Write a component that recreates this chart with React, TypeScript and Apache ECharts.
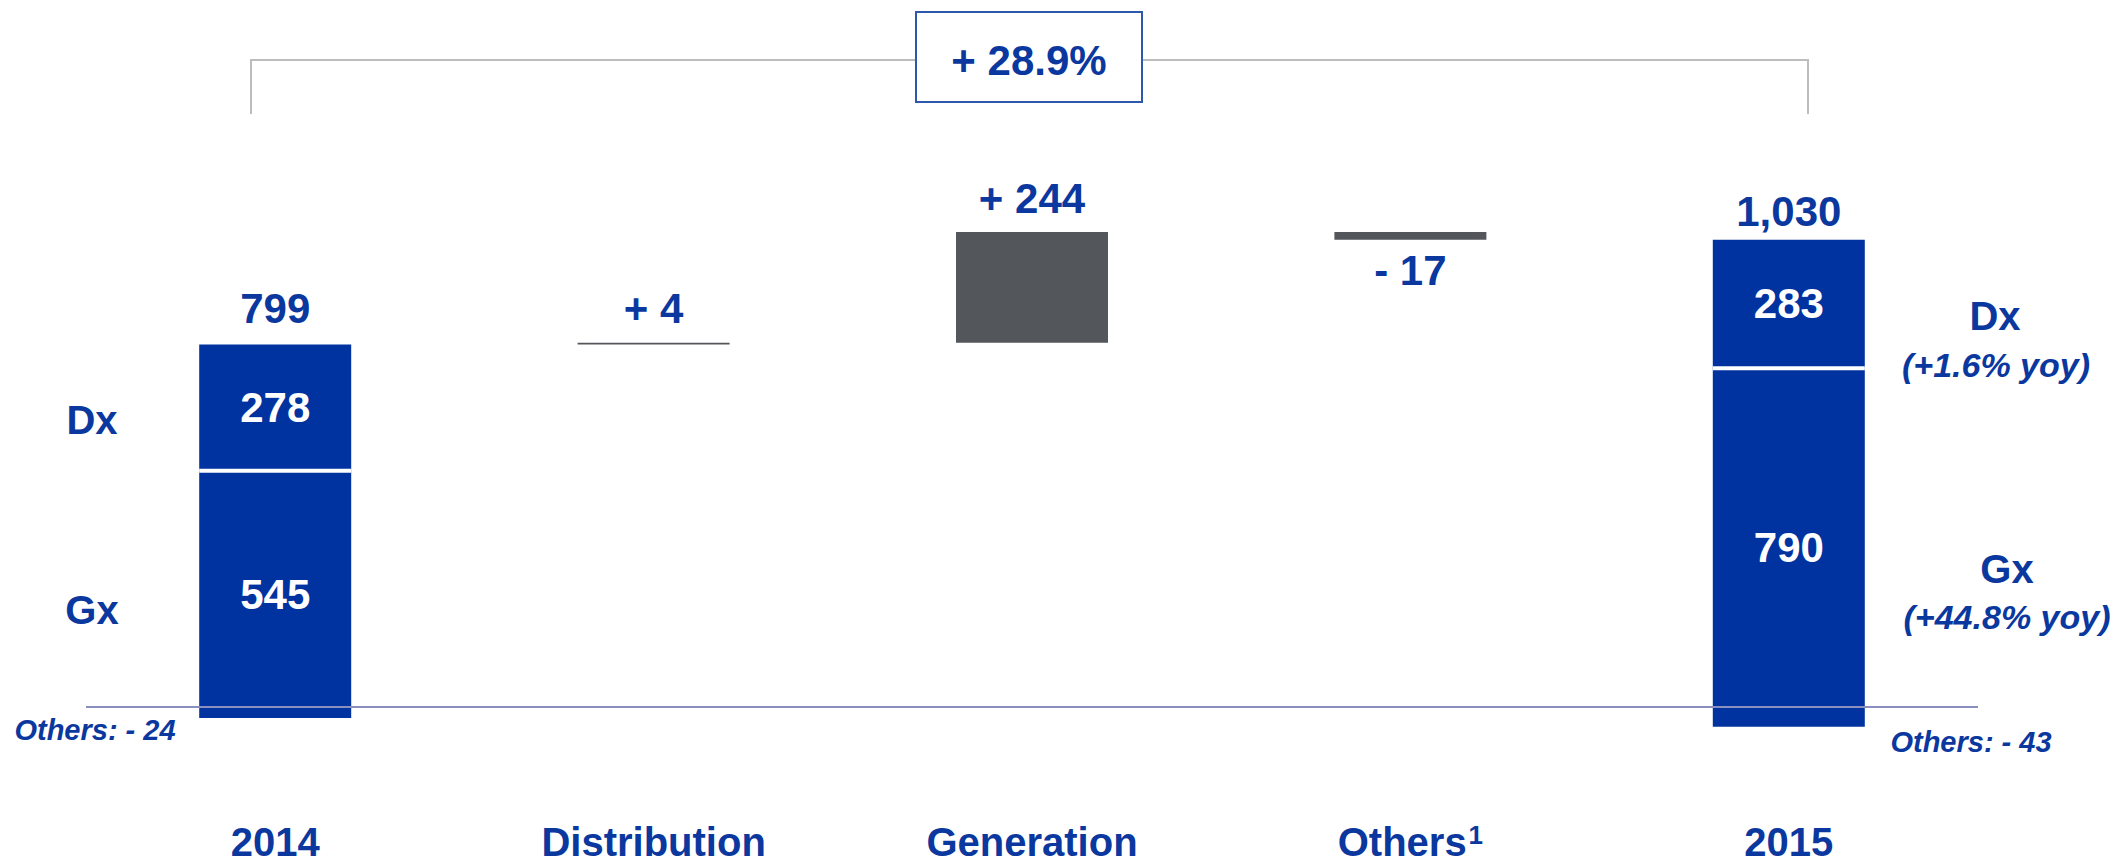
import React, { useEffect, useRef } from 'react';
import * as echarts from 'echarts';

// ---- data ----
const categories = ['2014', 'Distribution', 'Generation', 'Others', '2015'];
const footnotes = ['', '', '', '1', ''];
const gxValues = [545, 0, 0, 0, 790];
const dxValues = [278, 0, 0, 0, 283];
const othersAdj = [-24, 0, 0, 0, -43];
const totals = [799, 0, 0, 0, 1030];
const changes = [0, 4, 244, -17, 0];
const growthLabel = '+ 28.9%';
const dxYoy = '(+1.6% yoy)';
const gxYoy = '(+44.8% yoy)';

const FONT = "'Liberation Sans', Arial, Helvetica, sans-serif";
const BLUE = '#0033A0';
const TEXT_BLUE = '#0B389E';
const GREY = '#53565A';

function fmtTotal(v: number) {
  return v.toLocaleString('en-US');
}
function fmtChange(v: number) {
  return (v >= 0 ? '+ ' : '- ') + Math.abs(v);
}

export default function App() {
  const ref = useRef<HTMLDivElement>(null);

  useEffect(() => {
    if (!ref.current) return;
    const chart = echarts.init(ref.current, undefined, { renderer: 'svg' });

    // waterfall bases
    const base: number[] = [];
    const changeHeights: number[] = [];
    let running = totals[0];
    categories.forEach((_, i) => {
      if (totals[i]) {
        base.push(othersAdj[i]);
        changeHeights.push(0);
      } else {
        const c = changes[i];
        if (c >= 0) {
          base.push(running);
          changeHeights.push(c);
          running += c;
        } else {
          running += c;
          base.push(running);
          changeHeights.push(-c);
        }
      }
    });

    const valueLabel = {
      fontFamily: FONT,
      fontSize: 42,
      fontWeight: 'bold' as const,
    };

    const segItem = (v: number) =>
      v
        ? { value: v, itemStyle: { color: BLUE }, label: { show: true, formatter: String(v) } }
        : { value: 0, itemStyle: { color: 'transparent' }, label: { show: false } };

    const separators = categories
      .map((_, i) => (totals[i] ? [i, othersAdj[i] + gxValues[i]] : null))
      .filter((d) => d !== null);

    const totalDistance = [15, 0, 0, 0, 7];

    const option: any = {
      animation: false,
      grid: { left: 86, right: 142, top: 208, bottom: 66 },
      xAxis: {
        type: 'category',
        data: categories,
        axisLine: { show: false },
        axisTick: { show: false },
        axisLabel: {
          margin: 24,
          interval: 0,
          formatter: (val: string, idx: number) =>
            footnotes[idx] ? `{a|${val}}{s|${footnotes[idx]}}` : `{a|${val}}`,
          rich: {
            a: { fontFamily: FONT, fontSize: 40, fontWeight: 'bold', color: TEXT_BLUE, lineHeight: 40 },
            s: {
              fontFamily: FONT,
              fontSize: 26,
              fontWeight: 'bold',
              color: TEXT_BLUE,
              lineHeight: 26,
              verticalAlign: 'top',
              padding: [0, 0, 0, 2],
            },
          },
        },
      },
      yAxis: { type: 'value', min: -200, max: 1100, show: false },
      series: [
        {
          name: 'base',
          type: 'bar',
          stack: 'w',
          stackStrategy: 'all',
          barWidth: 152,
          silent: true,
          itemStyle: { color: 'transparent' },
          data: base,
          markLine: {
            silent: true,
            symbol: 'none',
            label: { show: false },
            lineStyle: { color: '#8A8FBF', width: 2, type: 'solid' },
            data: [{ yAxis: 0 }],
          },
        },
        {
          name: 'Gx',
          type: 'bar',
          stack: 'w',
          stackStrategy: 'all',
          barWidth: 152,
          label: { position: 'inside', color: '#fff', ...valueLabel },
          data: gxValues.map(segItem),
        },
        {
          name: 'Dx',
          type: 'bar',
          stack: 'w',
          stackStrategy: 'all',
          barWidth: 152,
          label: { position: 'inside', color: '#fff', ...valueLabel },
          data: dxValues.map(segItem),
        },
        {
          name: 'Total',
          type: 'bar',
          stack: 'w',
          stackStrategy: 'all',
          barWidth: 152,
          itemStyle: { color: 'transparent' },
          label: { position: 'top', color: TEXT_BLUE, ...valueLabel },
          data: totals.map((t, i) =>
            t
              ? { value: 0, label: { show: true, formatter: fmtTotal(t), distance: totalDistance[i] } }
              : { value: 0, label: { show: false } }
          ),
        },
        {
          name: 'Change',
          type: 'bar',
          stack: 'w',
          stackStrategy: 'all',
          barWidth: 152,
          itemStyle: { color: GREY },
          label: { color: TEXT_BLUE, ...valueLabel },
          data: changeHeights.map((h, i) =>
            h
              ? {
                  value: h,
                  label: {
                    show: true,
                    formatter: fmtChange(changes[i]),
                    position: changes[i] >= 0 ? 'top' : 'bottom',
                    distance: changes[i] >= 0 ? 13 : 10,
                  },
                }
              : { value: 0, itemStyle: { color: 'transparent' }, label: { show: false } }
          ),
        },
        {
          name: 'separator',
          type: 'custom',
          silent: true,
          encode: { x: 0, y: 1 },
          data: separators,
          renderItem: (_params: any, api: any) => {
            const p = api.coord([api.value(0), api.value(1)]);
            return {
              type: 'rect',
              shape: { x: p[0] - 76, y: p[1] - 2, width: 152, height: 4 },
              style: { fill: '#ffffff' },
            };
          },
          z: 3,
        },
      ],
      graphic: [
        {
          type: 'polyline',
          shape: { points: [[251, 114], [251, 60], [1808, 60], [1808, 114]] },
          style: { stroke: '#BDBDBD', lineWidth: 2, fill: 'none' },
        },
        {
          type: 'rect',
          shape: { x: 916, y: 12, width: 226, height: 90 },
          style: { fill: '#ffffff', stroke: '#2E58AC', lineWidth: 2 },
        },
        {
          type: 'text',
          x: 1029,
          y: 60,
          style: { text: growthLabel, font: `bold 42px ${FONT}`, fill: TEXT_BLUE, align: 'center', verticalAlign: 'middle' },
        },
        {
          type: 'text',
          x: 92,
          y: 420,
          style: { text: 'Dx', font: `bold 40px ${FONT}`, fill: TEXT_BLUE, align: 'center', verticalAlign: 'middle' },
        },
        {
          type: 'text',
          x: 92,
          y: 610,
          style: { text: 'Gx', font: `bold 40px ${FONT}`, fill: TEXT_BLUE, align: 'center', verticalAlign: 'middle' },
        },
        {
          type: 'text',
          x: 95,
          y: 730,
          style: { text: 'Others: - 24', font: `italic bold 29px ${FONT}`, fill: TEXT_BLUE, align: 'center', verticalAlign: 'middle' },
        },
        {
          type: 'text',
          x: 1995,
          y: 316,
          style: { text: 'Dx', font: `bold 40px ${FONT}`, fill: TEXT_BLUE, align: 'center', verticalAlign: 'middle' },
        },
        {
          type: 'text',
          x: 1996,
          y: 365,
          style: { text: dxYoy, font: `italic bold 34px ${FONT}`, fill: TEXT_BLUE, align: 'center', verticalAlign: 'middle' },
        },
        {
          type: 'text',
          x: 2007,
          y: 569,
          style: { text: 'Gx', font: `bold 40px ${FONT}`, fill: TEXT_BLUE, align: 'center', verticalAlign: 'middle' },
        },
        {
          type: 'text',
          x: 2007,
          y: 617,
          style: { text: gxYoy, font: `italic bold 34px ${FONT}`, fill: TEXT_BLUE, align: 'center', verticalAlign: 'middle' },
        },
        {
          type: 'text',
          x: 1971,
          y: 742,
          style: { text: 'Others: - 43', font: `italic bold 29px ${FONT}`, fill: TEXT_BLUE, align: 'center', verticalAlign: 'middle' },
        },
      ],
    };

    chart.setOption(option);
    return () => chart.dispose();
  }, []);

  return (
    <div
      ref={ref}
      style={{ position: 'fixed', left: 0, top: 0, width: 2120, height: 864, background: '#ffffff' }}
    />
  );
}
